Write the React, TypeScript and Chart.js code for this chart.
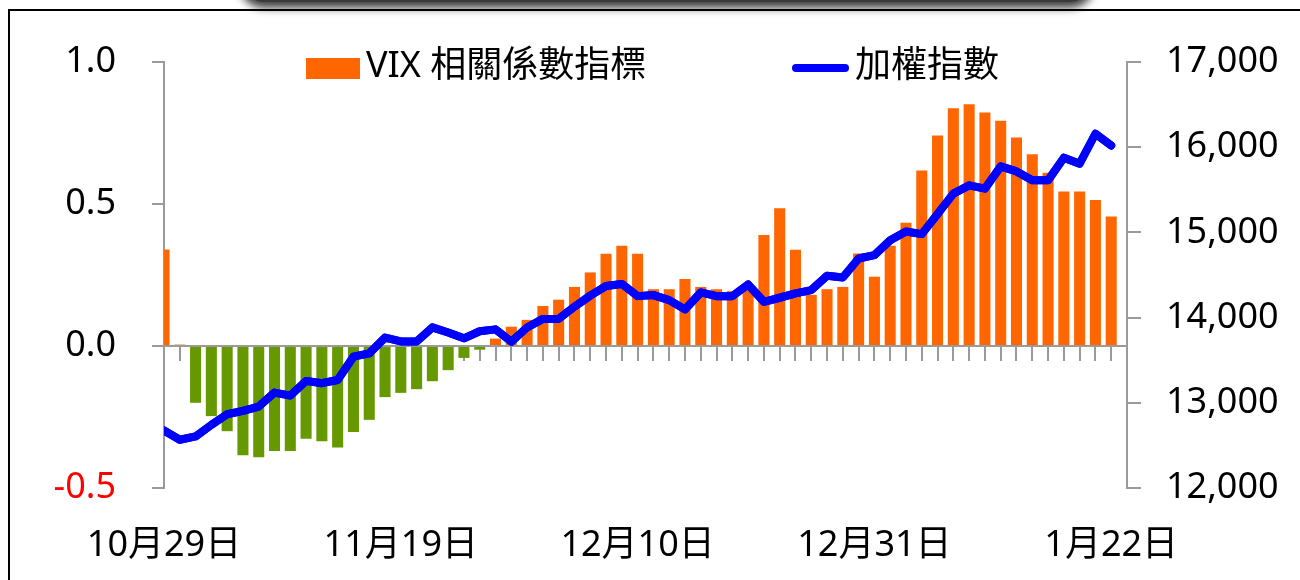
import React, { useEffect, useRef } from "react";
import { Chart, registerables } from "chart.js";

Chart.register(...registerables);

// Trading days 2020/10/29 – 2021/01/22 (plus one empty slot at the right edge)
const dates: string[] = [
  "10月29日", "10月30日",
  "11月2日", "11月3日", "11月4日", "11月5日", "11月6日",
  "11月9日", "11月10日", "11月11日", "11月12日", "11月13日",
  "11月16日", "11月17日", "11月18日", "11月19日", "11月20日",
  "11月23日", "11月24日", "11月25日", "11月26日", "11月27日",
  "11月30日",
  "12月1日", "12月2日", "12月3日", "12月4日",
  "12月7日", "12月8日", "12月9日", "12月10日", "12月11日",
  "12月14日", "12月15日", "12月16日", "12月17日", "12月18日",
  "12月21日", "12月22日", "12月23日", "12月24日", "12月25日",
  "12月28日", "12月29日", "12月30日", "12月31日",
  "1月4日", "1月5日", "1月6日", "1月7日", "1月8日",
  "1月11日", "1月12日", "1月13日", "1月14日", "1月15日",
  "1月18日", "1月19日", "1月20日", "1月21日", "1月22日",
  "",
];

const shownDates: string[] = ["10月29日", "11月19日", "12月10日", "12月31日", "1月22日"];

const vixCorr: number[] = [
  0.34, 0.005, -0.2, -0.247, -0.3, -0.385, -0.392, -0.37, -0.37, -0.327,
  -0.335, -0.357, -0.303, -0.26, -0.18, -0.165, -0.152, -0.124, -0.085, -0.042,
  -0.013, 0.026, 0.068, 0.092, 0.141, 0.163, 0.208, 0.259, 0.325, 0.353,
  0.325, 0.2, 0.2, 0.236, 0.208, 0.2, 0.193, 0.21, 0.391, 0.485,
  0.339, 0.18, 0.2, 0.208, 0.326, 0.244, 0.353, 0.434, 0.618, 0.741,
  0.837, 0.851, 0.822, 0.793, 0.734, 0.675, 0.61, 0.544, 0.544, 0.514,
  0.456,
];

const taiex: number[] = [
  12675, 12566, 12605, 12741, 12866, 12905, 12956, 13120, 13085, 13257,
  13230, 13268, 13541, 13581, 13765, 13720, 13720, 13885, 13825, 13757,
  13840, 13862, 13717, 13885, 13985, 13985, 14128, 14258, 14371, 14395,
  14252, 14264, 14205, 14096, 14295, 14252, 14252, 14389, 14186, 14233,
  14284, 14323, 14491, 14471, 14694, 14733, 14908, 15010, 14980, 15215,
  15455, 15552, 15514, 15775, 15716, 15611, 15611, 15877, 15806, 16158,
  16021,
];

const leftTicks: number[] = [-0.5, 0, 0.5, 1.0];
const rightTicks: number[] = [12000, 13000, 14000, 15000, 16000, 17000];

const seriesLabels: string[] = ["VIX 相關係數指標", "加權指數"];

const ORANGE = "#FF6600";
const GREEN = "#669900";
const BLUE = "#0000FF";
const AXIS = "#9a9a9a";
const FONT = "'Noto Sans', 'Noto Sans CJK TC', sans-serif";
const WEIGHT = "normal";

const legendAndOverlay = {
  id: "legendAndOverlay",
  afterDraw(chart: any) {
    const ctx = chart.ctx as CanvasRenderingContext2D;
    const a = chart.chartArea;
    // redraw the index line on top of the zero-axis
    const meta = chart.getDatasetMeta(1);
    ctx.save();
    ctx.beginPath();
    ctx.rect(a.left, 0, chart.width - a.left, chart.height);
    ctx.clip();
    meta.controller.draw();
    ctx.restore();

    // legend
    const ds = chart.data.datasets;
    ctx.save();
    ctx.font = `${WEIGHT} 36px ${FONT}`;
    ctx.textBaseline = "middle";
    ctx.textAlign = "left";
    ctx.fillStyle = ORANGE;
    ctx.fillRect(306, 58, 54, 21);
    ctx.fillStyle = "#000";
    ctx.fillText(ds[0].label, 366, 67);

    ctx.strokeStyle = BLUE;
    ctx.lineWidth = 8;
    ctx.lineCap = "round";
    ctx.beginPath();
    ctx.moveTo(796, 68);
    ctx.lineTo(845, 68);
    ctx.stroke();
    ctx.fillText(ds[1].label, 855, 67);
    ctx.restore();
  },
};

export default function App() {
  const ref = useRef<HTMLCanvasElement | null>(null);

  useEffect(() => {
    if (!ref.current) return;
    Chart.defaults.font.family = FONT;
    Chart.defaults.font.size = 36;
    Chart.defaults.color = "#000";
    const tickFont = { size: 36, family: FONT, weight: WEIGHT };

    const chart = new Chart(ref.current, {
      type: "bar",
      data: {
        labels: dates,
        datasets: [
          {
            type: "bar",
            label: seriesLabels[0],
            data: vixCorr,
            backgroundColor: (c: any) => (c.raw < 0 ? GREEN : ORANGE),
            borderWidth: 0,
            barPercentage: 0.7,
            categoryPercentage: 1.0,
            xAxisID: "x",
            yAxisID: "y",
            clip: 0,
            order: 2,
          } as any,
          {
            type: "line",
            label: seriesLabels[1],
            data: taiex,
            borderColor: BLUE,
            backgroundColor: BLUE,
            borderWidth: 8,
            borderCapStyle: "round",
            borderJoinStyle: "round",
            pointRadius: 0,
            pointHoverRadius: 0,
            tension: 0,
            fill: false,
            xAxisID: "x",
            yAxisID: "y1",
            clip: { left: 0, top: false, right: false, bottom: false },
            order: 1,
          } as any,
        ],
      },
      options: {
        responsive: false,
        animation: false,
        events: [],
        layout: { padding: { top: 62, left: 0, right: 0, bottom: 0 } },
        plugins: {
          legend: { display: false },
          tooltip: { enabled: false },
          title: { display: false },
        },
        scales: {
          x: {
            type: "category",
            position: "bottom",
            offset: false,
            grid: { display: false, drawTicks: false, offset: false },
            border: { display: false },
            ticks: {
              autoSkip: false,
              maxRotation: 0,
              minRotation: 0,
              padding: 36,
              color: "#000",
              font: tickFont,
              callback: (_v: any, i: number) => (shownDates.includes(dates[i]) ? dates[i] : ""),
            },
            afterFit: (s: any) => {
              s.height = 92;
            },
          },
          x2: {
            type: "category",
            position: { y: 0 } as any,
            offset: false,
            z: 1,
            grid: {
              display: true,
              drawOnChartArea: false,
              drawTicks: true,
              tickLength: 14,
              color: AXIS,
              lineWidth: 2,
              offset: false,
            },
            border: { display: true, color: AXIS, width: 2 },
            ticks: { display: false },
          },
          y: {
            type: "linear",
            position: "left",
            min: -0.5,
            max: 1.0,
            afterBuildTicks: (s: any) => {
              s.ticks = leftTicks.map((v) => ({ value: v }));
            },
            grid: {
              drawOnChartArea: false,
              drawTicks: true,
              tickLength: 12,
              color: AXIS,
              lineWidth: 2,
            },
            border: { display: true, color: AXIS, width: 2 },
            ticks: {
              padding: 36,
              font: tickFont,
              color: (c: any) => (c.tick && c.tick.value < 0 ? "#FF0000" : "#000"),
              callback: (v: any) => Number(v).toFixed(1),
            },
            afterFit: (s: any) => {
              s.width = 164;
            },
          },
          y1: {
            type: "linear",
            position: "right",
            min: 12000,
            max: 17000,
            afterBuildTicks: (s: any) => {
              s.ticks = rightTicks.map((v) => ({ value: v }));
            },
            grid: {
              drawOnChartArea: false,
              drawTicks: true,
              tickLength: 14,
              color: AXIS,
              lineWidth: 2,
            },
            border: { display: true, color: AXIS, width: 2 },
            ticks: {
              padding: 25,
              font: tickFont,
              color: "#000",
              callback: (v: any) => Number(v).toLocaleString("en-US"),
            },
            afterFit: (s: any) => {
              s.width = 173;
            },
          },
        },
      } as any,
      plugins: [legendAndOverlay],
    });
    return () => chart.destroy();
  }, []);

  return (
    <div
      style={{
        position: "absolute",
        left: 0,
        top: 0,
        width: 1300,
        height: 580,
        overflow: "hidden",
        background: "#fff",
      }}
    >
      <canvas ref={ref} width={1300} height={580} style={{ display: "block", position: "absolute", left: 0, top: 0 }} />
      <div
        style={{
          position: "absolute",
          left: 8,
          top: 9,
          width: 1400,
          height: 700,
          borderTop: "2px solid #000",
          borderLeft: "2px solid #000",
          pointerEvents: "none",
        }}
      />
      <div
        style={{
          position: "absolute",
          left: 244,
          top: -40,
          width: 846,
          height: 42,
          background: "#3a3a3a",
          borderRadius: 20,
          boxShadow: "0 1px 8px 5px rgba(0,0,0,0.75)",
          pointerEvents: "none",
        }}
      />
    </div>
  );
}
